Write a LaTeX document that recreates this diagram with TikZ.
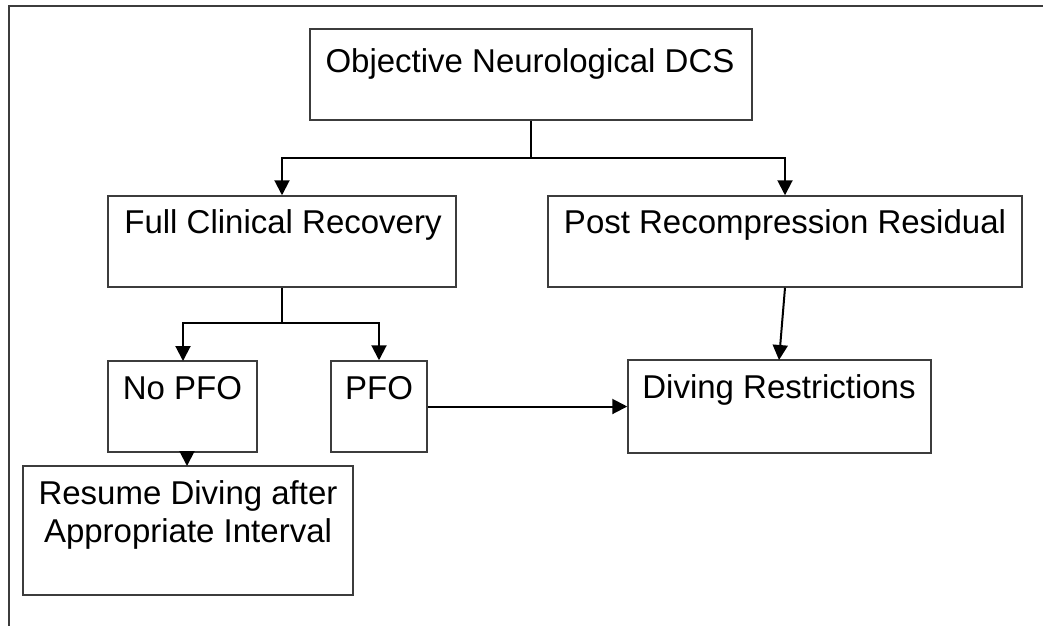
\documentclass[tikz,border=0pt]{standalone}
\usepackage{fontspec}
\setmainfont{Liberation Sans}
\usetikzlibrary{arrows.meta}
\definecolor{boxline}{HTML}{3C3C3C}
\begin{document}
\begin{tikzpicture}[x=1pt,y=-1pt,
  boxnode/.style={draw=boxline, line width=1.5pt, rectangle, inner sep=0pt},
  lbl/.style={anchor=base, inner sep=0pt, font=\fontsize{33}{38}\selectfont, align=center},
  conn/.style={draw=black, line width=2pt},
  arr/.style={conn, -{Triangle[length=15pt,width=15pt]}}]
\useasboundingbox (0,0) rectangle (1043,625);
\fill[white] (0,0) rectangle (1043,625);
% outer frame (right and bottom sides lie outside the picture)
\draw[boxline, line width=2pt] (9,640) -- (9,6) -- (1060,6);

% boxes
\node[boxnode, minimum width=442pt, minimum height=91pt] (dcs) at (531,74.5) {};
\node[boxnode, minimum width=348pt, minimum height=91pt] (full) at (282,241.5) {};
\node[boxnode, minimum width=474pt, minimum height=91pt] (post) at (785,241.5) {};
\node[boxnode, minimum width=149pt, minimum height=91pt] (nopfo) at (182.5,406.5) {};
\node[boxnode, minimum width=96pt, minimum height=91pt] (pfo) at (379,406.5) {};
\node[boxnode, minimum width=303pt, minimum height=93pt] (dive) at (779.5,406.5) {};
\node[boxnode, minimum width=330pt, minimum height=129pt] (resume) at (188,530.5) {};

% texts
\node[lbl] (tdcs) at (530,72) {Objective Neurological DCS};
\node[lbl] (tfull) at (283,233) {Full Clinical Recovery};
\node[lbl] (tpost) at (785,233) {Post Recompression Residual};
\node[lbl] (tnopfo) at (182.5,399) {No PFO};
\node[lbl] (tpfo) at (379,399) {PFO};
\node[lbl] (tdive) at (779,398) {Diving Restrictions};
\node[lbl] (tres1) at (188,504) {Resume Diving after};
\node[lbl] (tres2) at (188,542) {Appropriate Interval};

% connectors
\coordinate (j1) at (531,158);
\coordinate (j2) at (282,323);
\draw[conn] (dcs.south) -- (j1);
\draw[arr] (j1) -- (282,158) -- (full.north);
\draw[arr] (j1) -- (785,158) -- (post.north);
\draw[conn] (full.south) -- (j2);
\draw[arr] (j2) -- (183,323) -- (183,361);
\draw[arr] (j2) -- (379,323) -- (pfo.north);
\draw[arr] (post.south) -- (779,360);
\draw[arr] (pfo.east) -- (dive.west);
\draw[arr] (187,452) -- (187,466);
\end{tikzpicture}
\end{document}
